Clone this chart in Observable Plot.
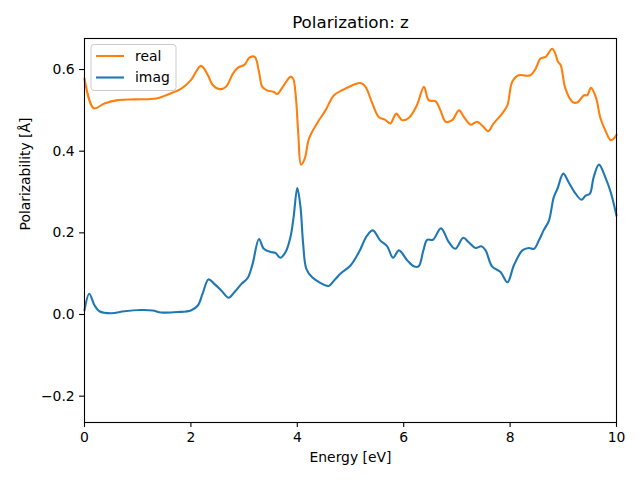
<!DOCTYPE html>
<html>
<head>
<meta charset="utf-8">
<script src="https://cdn.jsdelivr.net/npm/d3@7"></script>
<script src="https://cdn.jsdelivr.net/npm/@observablehq/plot@0.6"></script>
<style>
  html, body { margin: 0; padding: 0; background: white; }
  #chart { width: 640px; height: 480px; }
</style>
</head>
<body>
<div id="chart"></div>
<script>
const realX = [0, 0.175, 0.376, 0.63, 0.94, 1.35, 1.57, 1.82, 2.0, 2.19, 2.32, 2.41, 2.54, 2.66, 2.79, 2.88, 3.01, 3.10, 3.2, 3.28, 3.34, 3.43, 3.56, 3.62, 3.75, 3.87, 3.92, 3.97, 4.02, 4.07, 4.14, 4.22, 4.37, 4.53, 4.69, 4.87, 5.06, 5.19, 5.28, 5.41, 5.53, 5.66, 5.75, 5.86, 5.97, 6.10, 6.25, 6.38, 6.47, 6.60, 6.69, 6.79, 6.91, 7.04, 7.13, 7.26, 7.38, 7.48, 7.59, 7.69, 7.85, 7.95, 8.04, 8.16, 8.29, 8.38, 8.48, 8.57, 8.67, 8.79, 8.85, 8.90, 8.95, 9.04, 9.17, 9.26, 9.39, 9.45, 9.52, 9.61, 9.70, 9.79, 9.89, 9.95, 10];
const realY = [0.578, 0.505, 0.517, 0.525, 0.527, 0.529, 0.539, 0.553, 0.574, 0.609, 0.586, 0.562, 0.552, 0.558, 0.590, 0.604, 0.612, 0.629, 0.631, 0.594, 0.558, 0.549, 0.545, 0.540, 0.562, 0.582, 0.578, 0.537, 0.439, 0.367, 0.382, 0.431, 0.468, 0.500, 0.537, 0.551, 0.563, 0.567, 0.558, 0.517, 0.484, 0.476, 0.468, 0.492, 0.476, 0.482, 0.513, 0.558, 0.525, 0.522, 0.500, 0.472, 0.476, 0.500, 0.484, 0.465, 0.472, 0.462, 0.449, 0.468, 0.492, 0.513, 0.570, 0.586, 0.585, 0.586, 0.602, 0.627, 0.631, 0.651, 0.639, 0.619, 0.611, 0.553, 0.521, 0.519, 0.537, 0.537, 0.555, 0.533, 0.480, 0.451, 0.427, 0.431, 0.44];

const imagX = [0, 0.09, 0.19, 0.28, 0.50, 0.75, 1.06, 1.28, 1.44, 1.75, 2.0, 2.13, 2.22, 2.33, 2.44, 2.57, 2.71, 2.82, 2.95, 3.07, 3.16, 3.28, 3.37, 3.50, 3.59, 3.68, 3.78, 3.87, 3.93, 4.00, 4.06, 4.11, 4.17, 4.28, 4.44, 4.59, 4.69, 4.81, 5.0, 5.16, 5.31, 5.42, 5.56, 5.69, 5.80, 5.91, 6.07, 6.19, 6.28, 6.37, 6.44, 6.55, 6.70, 6.85, 6.97, 7.12, 7.22, 7.35, 7.46, 7.54, 7.66, 7.82, 7.95, 8.07, 8.23, 8.35, 8.45, 8.54, 8.63, 8.73, 8.82, 8.89, 9.0, 9.10, 9.21, 9.34, 9.42, 9.50, 9.57, 9.67, 9.79, 9.89, 10];
const imagY = [0.01, 0.051, 0.022, 0.008, 0.003, 0.008, 0.011, 0.010, 0.005, 0.006, 0.010, 0.022, 0.051, 0.086, 0.075, 0.059, 0.041, 0.055, 0.075, 0.090, 0.124, 0.185, 0.161, 0.153, 0.151, 0.139, 0.153, 0.189, 0.238, 0.310, 0.263, 0.173, 0.112, 0.091, 0.077, 0.070, 0.083, 0.100, 0.120, 0.153, 0.193, 0.206, 0.181, 0.167, 0.139, 0.157, 0.132, 0.118, 0.118, 0.157, 0.183, 0.183, 0.211, 0.177, 0.161, 0.188, 0.177, 0.163, 0.167, 0.157, 0.118, 0.104, 0.079, 0.120, 0.157, 0.163, 0.161, 0.181, 0.206, 0.230, 0.287, 0.308, 0.345, 0.324, 0.300, 0.281, 0.291, 0.296, 0.336, 0.367, 0.336, 0.300, 0.242];

const seriesNames = ["real", "imag"];
const seriesColors = ["#ff7f0e", "#1f77b4"];
const xTicks = [0, 2, 4, 6, 8, 10];
const yTicks = [-0.2, 0.0, 0.2, 0.4, 0.6];
const titleText = "Polarization: z";
const xLabel = "Energy [eV]";
const yLabel = "Polarizability [Å]";

const realData = realX.map((x, i) => ({x, y: realY[i]}));
const imagData = imagX.map((x, i) => ({x, y: imagY[i]}));

const fmt = v => (v < 0 ? "\u2212" : "") + Math.abs(v).toFixed(1);
const xfmt = v => String(v);

const plot = Plot.plot({
  width: 640,
  height: 480,
  marginLeft: 84,
  marginRight: 24,
  marginTop: 38,
  marginBottom: 58,
  style: {fontFamily: "DejaVu Sans", fontSize: "13.9px", color: "black", background: "white"},
  x: {domain: [0, 10]},
  y: {domain: [-0.2645, 0.676]},
  marks: [
    Plot.line(realData, {x: "x", y: "y", stroke: seriesColors[0], strokeWidth: 2.1, curve: "catmull-rom"}),
    Plot.line(imagData, {x: "x", y: "y", stroke: seriesColors[1], strokeWidth: 2.1, curve: "catmull-rom"}),
    Plot.axisX(xTicks, {tickSize: 4.9, tickPadding: 4.9, tickFormat: xfmt, label: null, stroke: "black", strokeWidth: 1.1, fontSize: 13.9}),
    Plot.axisY(yTicks, {tickSize: 4.9, tickPadding: 4.9, tickFormat: fmt, label: null, stroke: "black", strokeWidth: 1.1, fontSize: 13.9}),
    Plot.frame({stroke: "black", strokeWidth: 1.1}),
    Plot.text([titleText], {frameAnchor: "top", dy: -16, fontSize: 16.7, lineAnchor: "middle"}),
    Plot.text([xLabel], {frameAnchor: "bottom", dy: 35, fontSize: 13.9, lineAnchor: "middle"}),
    Plot.text([yLabel], {frameAnchor: "left", dx: -59, rotate: -90, fontSize: 13.9, lineAnchor: "middle"})
  ]
});

document.getElementById("chart").appendChild(plot);

// Legend (matplotlib-style, upper left)
const svg = d3.select(plot);
const lg = svg.append("g").attr("font-family", "DejaVu Sans").attr("font-size", "13.9px").attr("text-anchor", "start");
lg.append("rect").attr("x", 91).attr("y", 44.5).attr("width", 85).attr("height", 46)
  .attr("rx", 3).attr("fill", "white").attr("fill-opacity", 0.8).attr("stroke", "#cccccc").attr("stroke-width", 1);
seriesNames.forEach((name, i) => {
  const yy = 56 + i * 21.5;
  lg.append("line").attr("x1", 96).attr("x2", 124).attr("y1", yy).attr("y2", yy)
    .attr("stroke", seriesColors[i]).attr("stroke-width", 2.1);
  lg.append("text").attr("x", 135).attr("y", yy).attr("dy", "0.35em").attr("text-anchor", "start").attr("fill", "black").text(name);
});
</script>
</body>
</html>
